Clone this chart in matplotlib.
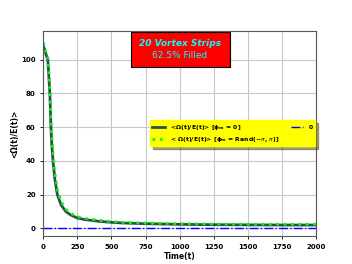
import matplotlib.pyplot as plt

time = [0, 10, 20, 33, 48, 56, 62, 71, 85, 103, 130, 165, 200, 248,
        300, 410, 500, 580, 750, 1000, 1250, 1500, 1750, 2000]
omega_zero = [108, 106, 103, 100, 80, 60, 50, 40, 29, 20, 14, 10, 8.0, 6.2,
              5.3, 4.2, 3.6, 3.2, 2.8, 2.4, 2.2, 2.1, 2.0, 2.0]
omega_rand = [110, 107, 104, 102, 84, 66, 55, 45, 33, 23, 16, 11.5, 9.0, 7.0,
              6.0, 4.8, 4.1, 3.6, 3.2, 2.8, 2.6, 2.5, 2.5, 2.5]
zero_t = [0, 2000]
zero_v = [0, 0]

fig, ax = plt.subplots(figsize=(3.52, 2.64), dpi=100)

ax.plot(time, omega_zero, color="#2f4f4f", linewidth=2,
        label=r"<Ω(t)/E(t)> [$\mathbf{\phi_m}$ = 0]")
ax.plot(time, omega_rand, color="#00ff00", linestyle=":", linewidth=2,
        label=r"< Ω(t)/E(t)> [$\mathbf{\phi_m}$ = Rand($-\pi$, $\pi$)]")
ax.plot(zero_t, zero_v, color="blue", linestyle="-.", linewidth=1, label="0")

ax.set_xlim(0, 2000)
ax.set_ylim(-4.5, 117)
ax.set_xticks([0, 250, 500, 750, 1000, 1250, 1500, 1750, 2000])
ax.set_yticks([0, 20, 40, 60, 80, 100])
ax.grid(True, color="#c8c8c8", linewidth=0.8)
ax.tick_params(labelsize=5, length=2, width=0.6)
for lbl in ax.get_xticklabels() + ax.get_yticklabels():
    lbl.set_fontweight("bold")
for sp in ax.spines.values():
    sp.set_color("#555555")
    sp.set_linewidth(0.8)

ax.set_xlabel("Time(t)", fontsize=5.5, fontweight="bold", labelpad=2)
ax.set_ylabel("<Ω(t)/E(t)>", fontsize=5.5, fontweight="bold", labelpad=1)

leg = ax.legend(loc="center right", ncol=2,
                prop={"weight": "bold", "size": 4.4},
                facecolor="yellow", edgecolor="yellow", framealpha=1,
                shadow=True, fancybox=False, columnspacing=2,
                handlelength=2, borderaxespad=0.2)

ax.text(0.5, 0.937, "20 Vortex Strips", transform=ax.transAxes,
        ha="center", va="center", fontsize=6.5, color="cyan",
        fontweight="bold", style="italic", zorder=3)
ax.text(0.5, 0.88, "62.5% Filled", transform=ax.transAxes,
        ha="center", va="center", fontsize=6.5, color="cyan", zorder=3)
box = plt.Rectangle((0.32, 0.824), 0.364, 0.171, transform=ax.transAxes,
                    facecolor="red", edgecolor="black", linewidth=0.8, zorder=2)
ax.add_patch(box)

fig.subplots_adjust(left=0.123, right=0.898, top=0.883, bottom=0.106)
plt.savefig("out.png", dpi=100)
